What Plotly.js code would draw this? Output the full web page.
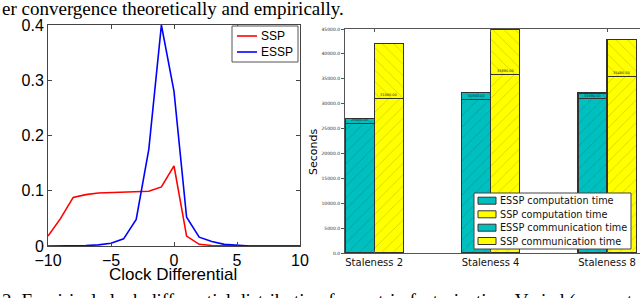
<!DOCTYPE html>
<html>
<head>
<meta charset="utf-8">
<script src="https://cdn.plot.ly/plotly-3.0.1.min.js"></script>
<style>
  html, body { margin: 0; padding: 0; background: #fff; overflow: hidden; }
  #chart { width: 640px; height: 298px; }
</style>
</head>
<body>
<div id="chart"></div>
<script>
// ---- Left chart data: clock differential distribution ----
const clockDiff = [-10, -9, -8, -7, -6, -5, -4, -3, -2, -1, 0, 1, 2, 3, 4, 5, 6, 7, 8, 9, 10];
const sspDist  = [0.018, 0.050, 0.088, 0.093, 0.096, 0.097, 0.097, 0.098, 0.099, 0.107, 0.145, 0.018, 0.003, 0.001, 0, 0, 0, 0, 0, 0, 0];
const esspDist = [0, 0, 0, 0.001, 0.002, 0.005, 0.013, 0.048, 0.175, 0.400, 0.280, 0.052, 0.016, 0.008, 0.003, 0.001, 0, 0, 0, 0, 0];
const lineNames = ["SSP", "ESSP"];

// ---- Right chart data: time breakdown (seconds) ----
const staleness = ["Staleness 2", "Staleness 4", "Staleness 8"];
const esspComp = [26050, 30860, 30990];
const esspComm = [1000, 1410, 1140];
const sspComp  = [31060, 35880, 35480];
const sspComm  = [10970, 9040, 7350];
const barNames = ["ESSP computation time", "SSP computation time", "ESSP communication time", "SSP communication time"];

const captionTop = "er convergence theoretically and empirically.";
const captionBottom = "2: Empirical clock differential distribution for matrix factorization. Varied (computation";

// ---- helpers ----
const W = 640, H = 298;
const px = v => v / W;
const py = v => 1 - v / H;
const TEAL = "#00bfbf", YEL = "#ffff00";

const idx = staleness.map((_, i) => i);
const esspX = idx.map(i => i - 0.125);
const sspX  = idx.map(i => i + 0.125);

function pat(shape, bg) {
  return { shape: shape, size: 8, solidity: 0.08, bgcolor: bg, fgcolor: "rgba(0,0,0,0.22)", fillmode: "replace" };
}

const traces = [
  { x: clockDiff, y: sspDist, type: "scatter", mode: "lines", name: lineNames[0],
    line: { color: "#ff0000", width: 1.6 }, xaxis: "x", yaxis: "y" },
  { x: clockDiff, y: esspDist, type: "scatter", mode: "lines", name: lineNames[1],
    line: { color: "#0000ff", width: 1.6 }, xaxis: "x", yaxis: "y" },
  { x: esspX, y: esspComp, type: "bar", name: barNames[0], width: 0.25,
    marker: { color: TEAL, line: { color: "#333", width: 1.2 }, pattern: pat("/", TEAL) }, xaxis: "x2", yaxis: "y2" },
  { x: sspX, y: sspComp, type: "bar", name: barNames[1], width: 0.25,
    marker: { color: YEL, line: { color: "#333", width: 1.2 }, pattern: pat("/", YEL) }, xaxis: "x2", yaxis: "y2" },
  { x: esspX, y: esspComm, type: "bar", name: barNames[2], width: 0.25,
    marker: { color: TEAL, line: { color: "#333", width: 1.2 }, pattern: pat("\\", TEAL) }, xaxis: "x2", yaxis: "y2" },
  { x: sspX, y: sspComm, type: "bar", name: barNames[3], width: 0.25,
    marker: { color: YEL, line: { color: "#333", width: 1.2 }, pattern: pat("\\", YEL) }, xaxis: "x2", yaxis: "y2" }
];

const shapes = [];
const annotations = [];

// Left legend
shapes.push({ type: "rect", xref: "paper", yref: "paper", x0: px(232), x1: px(298), y0: py(26), y1: py(62),
  line: { color: "#555", width: 1 }, fillcolor: "#fff", layer: "above" });
const lineColors = ["#ff0000", "#0000ff"];
const legY = [36, 52];
lineNames.forEach((n, i) => {
  shapes.push({ type: "line", xref: "paper", yref: "paper", x0: px(237), x1: px(257), y0: py(legY[i]), y1: py(legY[i]),
    line: { color: lineColors[i], width: 1.6 }, layer: "above" });
  annotations.push({ xref: "paper", yref: "paper", x: px(260), y: py(legY[i]), xanchor: "left", yanchor: "middle",
    text: n, showarrow: false, font: { family: "Arial, Liberation Sans", size: 12, color: "#000" }, borderpad: 0 });
});

// Right legend
shapes.push({ type: "rect", xref: "paper", yref: "paper", x0: px(474), x1: px(631), y0: py(193), y1: py(249),
  line: { color: "#444", width: 1 }, fillcolor: "#fff", layer: "above" });
const swColors = [TEAL, YEL, TEAL, YEL];
const rlegY = [200.7, 214.3, 227.7, 241];
barNames.forEach((n, i) => {
  shapes.push({ type: "rect", xref: "paper", yref: "paper", x0: px(478), x1: px(496), y0: py(rlegY[i] - 3.5), y1: py(rlegY[i] + 3.5),
    line: { color: "#333", width: 1 }, fillcolor: swColors[i], layer: "above" });
  annotations.push({ xref: "paper", yref: "paper", x: px(499), y: py(rlegY[i]), xanchor: "left", yanchor: "middle",
    text: n, showarrow: false, font: { family: "DejaVu Sans", size: 9.7, color: "#111" }, borderpad: 0 });
});

// tiny value labels on segment boundaries
esspComp.forEach((v, i) => annotations.push({ xref: "x2", yref: "y2", x: esspX[i], y: v, yanchor: "bottom",
  text: v.toFixed(2), showarrow: false, font: { family: "DejaVu Sans", size: 3.5, color: "#222" }, borderpad: 0 }));
sspComp.forEach((v, i) => annotations.push({ xref: "x2", yref: "y2", x: sspX[i], y: v, yanchor: "bottom",
  text: v.toFixed(2), showarrow: false, font: { family: "DejaVu Sans", size: 3.5, color: "#222" }, borderpad: 0 }));

// axis titles
annotations.push({ xref: "paper", yref: "paper", x: px(173), y: py(274), xanchor: "center", yanchor: "middle",
  text: "Clock Differential", showarrow: false, font: { family: "Arial, Liberation Sans", size: 17, color: "#000" }, borderpad: 0 });
annotations.push({ xref: "paper", yref: "paper", x: px(313), y: py(152), xanchor: "center", yanchor: "middle",
  text: "Seconds", textangle: -90, showarrow: false, font: { family: "DejaVu Sans", size: 11, color: "#000" } });

// paper text
annotations.push({ xref: "paper", yref: "paper", x: 0, y: py(-4), xanchor: "left", yanchor: "top",
  text: captionTop, showarrow: false, font: { family: "Liberation Serif, Times New Roman", size: 19, color: "#000" } });
annotations.push({ xref: "paper", yref: "paper", x: 0, y: py(288), xanchor: "left", yanchor: "top",
  text: captionBottom, showarrow: false, font: { family: "Liberation Serif, Times New Roman", size: 19, color: "#000" } });

const layout = {
  width: W, height: H,
  margin: { l: 0, r: 0, t: 0, b: 0 },
  paper_bgcolor: "#fff", plot_bgcolor: "#fff",
  showlegend: false,
  barmode: "stack",
  xaxis: {
    domain: [px(48), px(300)], anchor: "y", range: [-10, 10], tickvals: [-10, -5, 0, 5, 10],
    ticks: "inside", ticklen: 4, tickcolor: "#444", showline: true, mirror: "ticks", linecolor: "#444", linewidth: 1,
    showgrid: false, zeroline: false, tickfont: { family: "Arial, Liberation Sans", size: 16, color: "#000" }
  },
  yaxis: {
    domain: [py(246), py(25)], anchor: "x", range: [0, 0.4], tickvals: [0, 0.1, 0.2, 0.3, 0.4],
    ticks: "inside", ticklen: 4, tickcolor: "#444", showline: true, mirror: "ticks", linecolor: "#444", linewidth: 1,
    showgrid: false, zeroline: false, tickfont: { family: "Arial, Liberation Sans", size: 16, color: "#000" }
  },
  xaxis2: {
    domain: [px(345), 1], anchor: "y2", range: [-0.25, 2.283], tickvals: idx, ticktext: staleness,
    ticks: "inside", ticklen: 3, tickcolor: "#555", showline: true, mirror: "ticks", linecolor: "#555", linewidth: 1,
    showgrid: false, zeroline: false, tickfont: { family: "DejaVu Sans", size: 10, color: "#111" }
  },
  yaxis2: {
    domain: [py(253), py(29)], anchor: "x2", range: [0, 45000], dtick: 5000, tickformat: ".1f",
    ticks: "outside", ticklen: 3, tickcolor: "#555", showline: true, mirror: false, linecolor: "#555", linewidth: 1,
    showgrid: false, zeroline: false, tickfont: { family: "DejaVu Sans", size: 4.5, color: "#333" }
  },
  shapes: shapes,
  annotations: annotations
};

Plotly.newPlot("chart", traces, layout, { displayModeBar: false, staticPlot: true });
</script>
</body>
</html>
